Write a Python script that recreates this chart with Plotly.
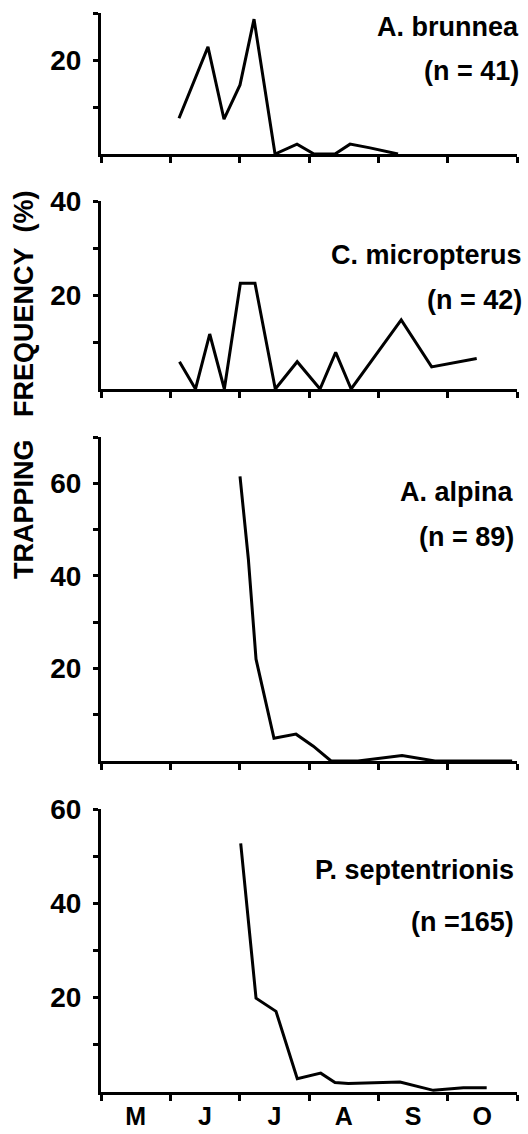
import plotly.graph_objects as go

# Time axis: months since 1 May (0 = 1 May, 6 = 1 Nov)
month_labels = ["M", "J", "J", "A", "S", "O"]
month_centres = [0.5, 1.5, 2.5, 3.5, 4.5, 5.5]

# A. brunnea (n = 41)
brunnea_t = [1.125, 1.543, 1.774, 2.005, 2.207, 2.510, 2.827, 3.072, 3.375, 3.592, 3.880, 4.284]
brunnea_pct = [7.6, 22.8, 7.4, 14.7, 28.7, 0, 2.1, 0, 0, 2.1, 1.3, 0]

# C. micropterus (n = 42)
micropterus_t = [1.132, 1.363, 1.568, 1.779, 2.010, 2.221, 2.514, 2.830, 3.159, 3.385, 3.608, 4.330, 4.769, 5.419]
micropterus_pct = [5.8, 0, 11.7, 0, 22.5, 22.5, 0, 5.8, 0, 7.8, 0, 14.7, 4.7, 6.5]

# A. alpina (n = 89)
alpina_t = [2.005, 2.125, 2.236, 2.495, 2.813, 3.062, 3.318, 3.707, 4.342, 4.817, 5.930]
alpina_pct = [61.5, 43.7, 22.0, 4.9, 5.8, 3.2, 0, 0, 1.2, 0, 0]

# P. septentrionis (n = 165)
septentrionis_t = [2.015, 2.236, 2.524, 2.831, 3.169, 3.375, 3.567, 4.313, 4.793, 5.226, 5.563]
septentrionis_pct = [52.7, 19.9, 17.1, 2.8, 4.0, 2.0, 1.8, 2.1, 0.35, 0.9, 0.9]

species = ["A. brunnea", "C. micropterus", "A. alpina", "P. septentrionis"]
sample_sizes = ["(n = 41)", "(n = 42)", "(n = 89)", "(n =165)"]
y_max = [30, 40, 70, 60]
y_labelled = [[20], [20, 40], [20, 40, 60], [20, 40, 60]]

series = [
    (brunnea_t, brunnea_pct),
    (micropterus_t, micropterus_pct),
    (alpina_t, alpina_pct),
    (septentrionis_t, septentrionis_pct),
]

W, H = 528, 1134
FONT = "Liberation Sans, Arial, sans-serif"
INK = "#000000"

# panel placement in pixels: (top of y axis, baseline)
panel_px = [(13, 154), (201, 389), (437, 761), (809, 1092)]
x_left, x_right = 101, 517
label_px = [(27, 71), (255, 300), (492, 537), (870, 922)]
label_right = [521, 524, 516, 516]


def fy(py):
    return 1 - py / H


fig = go.Figure()
layout = dict(
    width=W, height=H,
    margin=dict(l=0, r=0, t=0, b=0, autoexpand=False),
    paper_bgcolor="white", plot_bgcolor="white",
    showlegend=False,
    font=dict(family=FONT, size=28, color=INK, weight="bold"),
)
annotations = []

for i, ((t, pct), top, name, nlab, ymax, labs) in enumerate(
        zip(series, panel_px, species, sample_sizes, y_max, y_labelled)):
    k = "" if i == 0 else str(i + 1)
    fig.add_trace(go.Scatter(
        x=t, y=pct, mode="lines",
        line=dict(color=INK, width=3),
        xaxis="x" + k, yaxis="y" + k, cliponaxis=False,
    ))
    bottom_panel = i == 3
    layout["xaxis" + k] = dict(
        domain=[x_left / W, x_right / W], range=[0, 6],
        anchor="y" + k, automargin=False,
        showgrid=False, zeroline=False,
        showline=True, linecolor=INK, linewidth=3,
        tickvals=month_centres,
        ticktext=month_labels if bottom_panel else [""] * 6,
        ticks="", ticklen=0, showticklabels=bottom_panel,
        tickfont=dict(family=FONT, size=25, color=INK, weight="bold"),
        ticklabelstandoff=0,
        minor=dict(tick0=0, dtick=1, ticks="outside", ticklen=6,
                   tickwidth=3, tickcolor=INK, showgrid=False),
        fixedrange=True,
    )
    ticks = list(range(10, ymax + 1, 10))
    layout["yaxis" + k] = dict(
        domain=[fy(top[1]), fy(top[0])], range=[0, ymax],
        anchor="x" + k, automargin=False,
        showgrid=False, zeroline=False,
        showline=True, linecolor=INK, linewidth=3,
        tickvals=ticks,
        ticktext=[str(v) if v in labs else "" for v in ticks],
        ticks="outside", ticklen=5, tickwidth=3, tickcolor=INK,
        tickfont=dict(family=FONT, size=28, color=INK, weight="bold"),
        ticklabelstandoff=6,
        fixedrange=True,
    )
    ly1, ly2 = label_px[i]
    annotations.append(dict(
        text=name, xref="paper", yref="paper",
        x=label_right[i] / W, y=fy(ly1), xanchor="right", yanchor="middle",
        showarrow=False, font=dict(family=FONT, size=27, color=INK, weight="bold"),
    ))
    annotations.append(dict(
        text=nlab, xref="paper", yref="paper",
        x=label_right[i] / W, y=fy(ly2), xanchor="right", yanchor="middle",
        showarrow=False, font=dict(family=FONT, size=27, color=INK, weight="bold"),
    ))

annotations.append(dict(
    text="TRAPPING\u00a0\u00a0\u00a0FREQUENCY\u00a0\u00a0(%)",
    xref="paper", yref="paper", x=24 / W, y=fy(385),
    xanchor="center", yanchor="middle", textangle=-90, showarrow=False,
    font=dict(family=FONT, size=27, color=INK, weight="bold"),
))

layout["annotations"] = annotations
fig.update_layout(**layout)
fig.write_html("out.html")
